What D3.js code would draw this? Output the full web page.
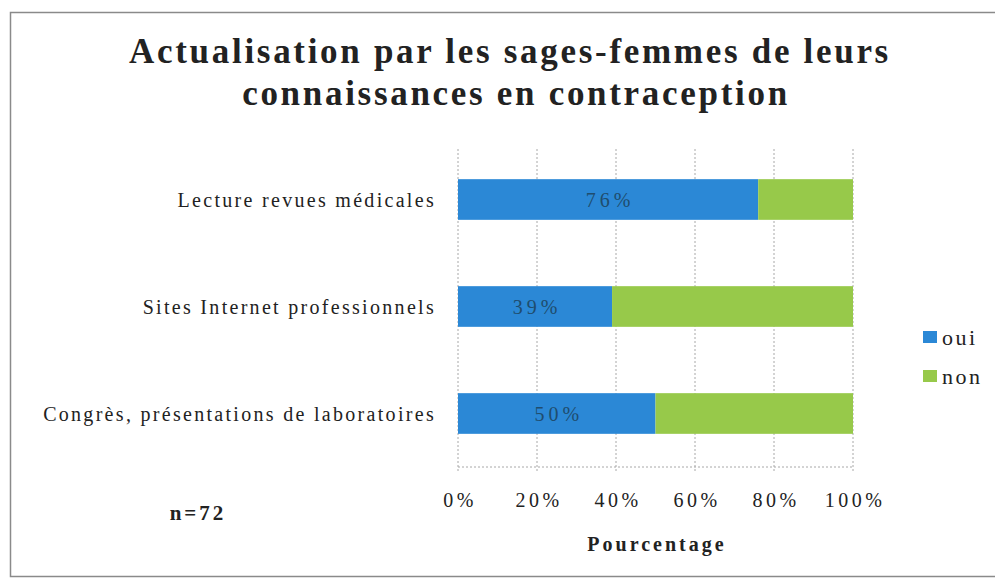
<!DOCTYPE html>
<html>
<head>
<meta charset="utf-8">
<script src="https://cdn.jsdelivr.net/npm/d3@7"></script>
<style>
  body { margin: 0; background: #fff; }
  text { font-family: "Liberation Serif", "Times New Roman", serif; }
</style>
</head>
<body>
<svg id="chart"></svg>
<script>
// data
const categories = ['Lecture revues médicales', 'Sites Internet professionnels', 'Congrès, présentations de laboratoires'];
const oui = [76, 39, 50];
const non = [24, 61, 50];
const seriesNames = ['oui', 'non'];
const xTicks = [0, 20, 40, 60, 80, 100];

const width = 995, height = 580;
const margin = {top: 146, right: 142, bottom: 113, left: 458};

const svg = d3.select('#chart')
    .attr('width', width)
    .attr('height', height);

// frame
svg.append('rect')
    .attr('x', 10.5).attr('y', 12.5)
    .attr('width', width + 10).attr('height', 564)
    .attr('fill', 'none')
    .attr('stroke', '#8a8a8a')
    .attr('stroke-width', 1.5);

const color = d3.scaleOrdinal().domain(seriesNames).range(['#2b88d6', '#97c94a']);

const xScale = d3.scaleLinear()
    .domain([0, 100])
    .range([margin.left, width - margin.right]);

const yScale = d3.scaleBand()
    .domain(categories)
    .range([margin.top, height - margin.bottom])
    .paddingInner(0.62)
    .paddingOuter(0.31);

const rows = categories.map((c, i) => ({cat: c, oui: oui[i], non: non[i]}));
const stacked = d3.stack().keys(seriesNames)(rows);

// gridlines
svg.append('g')
    .selectAll('line')
    .data(xTicks)
    .join('line')
    .attr('x1', d => xScale(d)).attr('x2', d => xScale(d))
    .attr('y1', margin.top + 3).attr('y2', height - margin.bottom + 6)
    .attr('stroke', '#a8a8a8')
    .attr('stroke-dasharray', '2,2');

// bottom axis line
svg.append('line')
    .attr('x1', xScale(0)).attr('x2', xScale(100))
    .attr('y1', height - margin.bottom).attr('y2', height - margin.bottom)
    .attr('stroke', '#a8a8a8')
    .attr('stroke-dasharray', '2,2');

// bars
svg.append('g')
    .selectAll('g')
    .data(stacked)
    .join('g')
    .attr('fill', d => color(d.key))
    .selectAll('rect')
    .data(d => d)
    .join('rect')
    .attr('x', d => xScale(d[0]))
    .attr('y', d => yScale(d.data.cat))
    .attr('width', d => xScale(d[1]) - xScale(d[0]))
    .attr('height', yScale.bandwidth());

// value labels on the oui segment
svg.append('g')
    .selectAll('text')
    .data(rows)
    .join('text')
    .attr('x', d => xScale(d.oui / 2) + 2)
    .attr('y', d => yScale(d.cat) + yScale.bandwidth() / 2)
    .attr('dy', '0.35em')
    .attr('text-anchor', 'middle')
    .attr('font-size', 20)
    .attr('letter-spacing', 4)
    .attr('fill', '#1f4d6e')
    .text(d => d.oui + '%');

// category labels
svg.append('g')
    .selectAll('text')
    .data(categories)
    .join('text')
    .attr('x', margin.left - 22)
    .attr('y', d => yScale(d) + yScale.bandwidth() / 2)
    .attr('dy', '0.35em')
    .attr('text-anchor', 'end')
    .attr('font-size', 20)
    .attr('letter-spacing', 2.3)
    .attr('fill', '#222')
    .text(d => d);

// x tick labels
svg.append('g')
    .selectAll('text')
    .data(xTicks)
    .join('text')
    .attr('x', d => xScale(d) + 2)
    .attr('y', 507)
    .attr('text-anchor', 'middle')
    .attr('font-size', 20)
    .attr('letter-spacing', 3.5)
    .attr('fill', '#222')
    .text(d => d + '%');

// axis title
svg.append('text')
    .attr('x', xScale(50) + 1.5)
    .attr('y', 551)
    .attr('text-anchor', 'middle')
    .attr('font-size', 20)
    .attr('font-weight', 'bold')
    .attr('letter-spacing', 3)
    .attr('fill', '#222')
    .text('Pourcentage');

// n
svg.append('text')
    .attr('x', 198)
    .attr('y', 520)
    .attr('text-anchor', 'middle')
    .attr('font-size', 21)
    .attr('font-weight', 'bold')
    .attr('letter-spacing', 3)
    .attr('fill', '#222')
    .text('n=72');

// title
const title = svg.append('text')
    .attr('text-anchor', 'middle')
    .attr('font-size', 35)
    .attr('font-weight', 'bold')
    .attr('letter-spacing', 2.7)
    .attr('fill', '#222');
title.append('tspan').attr('x', 510).attr('y', 63).text('Actualisation par les sages-femmes de leurs');
title.append('tspan').attr('x', 516).attr('y', 105).text('connaissances en contraception');

// legend
const legend = svg.append('g')
    .selectAll('g')
    .data(seriesNames)
    .join('g')
    .attr('transform', (d, i) => `translate(923,${331 + i * 39})`);
legend.append('rect')
    .attr('width', 14).attr('height', 12)
    .attr('fill', d => color(d));
legend.append('text')
    .attr('x', 19).attr('y', 14)
    .attr('font-size', 22)
    .attr('letter-spacing', 2.5)
    .attr('fill', '#222')
    .text(d => d);
</script>
</body>
</html>
